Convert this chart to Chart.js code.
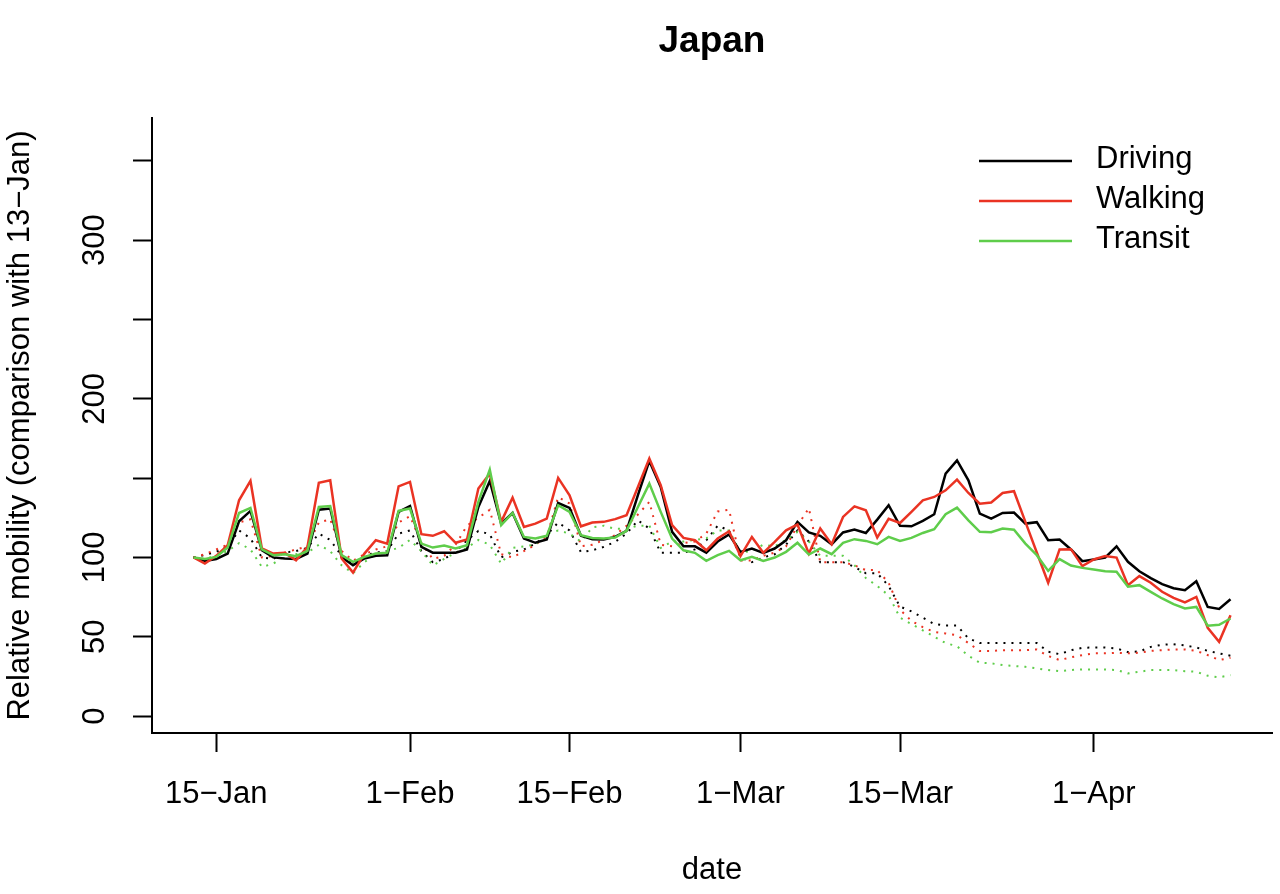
<!DOCTYPE html>
<html lang="en">
<head>
  <meta charset="UTF-8">
  <title>Japan mobility</title>
  <script src="https://cdn.jsdelivr.net/npm/chart.js"></script>
  <style>
    body { margin: 0; background: #fff; }
  </style>
</head>
<body>
  <canvas id="mobilityChart" width="1280" height="894"></canvas>

  <script>
    // days counted from 13-Jan (index 0)
    const xTickDays = [2, 19, 33, 48, 62, 79];
    const xTickLabels = ['15\u2212Jan', '1\u2212Feb', '15\u2212Feb', '1\u2212Mar', '15\u2212Mar', '1\u2212Apr'];
    const yTickValues = [0, 50, 100, 150, 200, 250, 300, 350];
    const yTickLabels = ['0', '50', '100', '', '200', '', '300', ''];
    const seriesNames = ['Driving', 'Walking', 'Transit'];

    const driving = [100, 97.8, 99, 102.4, 122.8, 129.3, 104.5, 100, 99.3, 99, 102.4, 130.1, 130.8, 100.3, 95.1, 99.3, 101, 101.4, 128.7, 132.4, 106.6, 103, 103,
      103, 105, 131.8, 148.2, 121.3, 128, 111.9, 109.2, 111.3, 134.3, 131.2, 113.6, 111.5, 111.3, 112.9, 116.7, 139.2, 160.8, 144.4, 116.1, 107, 107, 103,
      110, 114.4, 103.5, 105.6, 102.9, 105.6, 110.8, 122.4, 115.7, 113.6, 108.3, 115.7, 117.5, 115.4, 123.8, 132.9, 119.9, 119.6, 123, 127.2, 152.8, 161.2, 148.6,
      127.6, 124.5, 128, 128.3, 121.3, 122.2, 110.8, 111.3, 105, 97.6, 98.7, 99.9, 107, 97.2, 91.3, 86.9, 83.1, 80.6, 79.3, 85, 68.8, 67.5, 73.6];
    const walking = [100, 96.1, 101, 107.7, 136, 148.2, 105.6, 102.4, 102.9, 98.2, 106.6, 147, 148.6, 99.3, 90.4, 102.4, 110.8, 108.7, 144.8, 147.6, 114.6, 113.6, 116.5,
      109.2, 111.3, 143.4, 152.8, 122.4, 137.7, 119.2, 121.3, 124.5, 150.1, 139.2, 119.6, 122, 122.4, 124.1, 126.6, 144.4, 162.3, 145.5, 120.3, 112.3, 110.8, 104.5,
      111.9, 116.5, 100.8, 112.9, 102.9, 109.8, 117.1, 120.7, 102.4, 118.2, 108.3, 125.5, 132.2, 129.7, 112.5, 124.3, 121.7, 128.7, 136, 138.1, 142.3, 149, 140.6,
      133.9, 134.6, 140.6, 141.7, 122.4, 103.1, 84, 105, 105.2, 94.5, 98.7, 100.8, 99.9, 82.5, 88.2, 84, 78.3, 74.5, 71.6, 75.1, 55.6, 46.8, 63.6];
    const transit = [100, 99, 100.3, 106.2, 128, 131.2, 105, 101.4, 102, 100.8, 104.1, 131.8, 132.4, 101.4, 97.2, 100.3, 102.4, 103, 129.3, 130.8, 108.7, 106.2, 107.5,
      105.6, 107.7, 135, 155.3, 120.3, 128, 112.9, 111.9, 113.6, 132.9, 128.7, 114, 112.3, 111.9, 112.5, 116.7, 131.8, 146.5, 128.7, 111.9, 104.5, 102.9, 97.8,
      101.4, 104.1, 98.2, 100.3, 97.8, 99.9, 103.5, 109.2, 101.8, 105.6, 102, 109.2, 111.5, 110.4, 108.3, 112.9, 110.4, 112.3, 115.4, 117.8, 127.2, 131.4, 123.4,
      116.1, 115.9, 118.2, 117.5, 108.7, 101.4, 91.5, 98.9, 94.9, 93.4, 92.4, 91.3, 90.9, 81.5, 82.5, 78.3, 74.1, 70.5, 67.8, 68.8, 56.9, 57.5, 61.5];

    // dotted comparison series
    const drivingDotted = [100, 101.5, 103.5, 107, 117, 112, 100, 99, 103, 104, 106, 115, 111, 101, 96, 101, 103, 104, 115, 117, 104, 97, 99,
      103.5, 110.8, 116.7, 114.6, 100, 103.5, 105, 108.7, 114, 122, 117, 103.3, 104.5, 106.6, 109.8, 115, 123.4, 118.2, 102.9, 102.9, 102.9, 105, 110.8,
      120, 117, 100, 97, 100, 102, 108, 117, 110, 97, 97, 97, 94, 90, 90, 82, 69, 66, 62, 58, 57, 57, 49,
      46, 46, 46, 46, 46, 46, 40.5, 39, 41.5, 43, 43.2, 43.2, 42.6, 40.3, 40.7, 43.6, 44.9, 45.3, 44.5, 43.2, 41.1, 39.5, 38];
    const walkingDotted = [100, 102, 105, 108, 122, 124, 100, 101, 103, 105, 107, 122, 124, 104, 98, 102, 105, 107, 122, 126, 109, 99, 101,
      108, 120, 125, 130, 102, 100, 104, 108, 113, 138, 134, 107, 108, 111, 114, 120, 127, 135, 108, 107, 109, 110, 115,
      129, 130, 98, 98, 101, 103, 107, 120, 131, 97, 97, 97, 95, 92, 92, 84, 67, 60, 56, 53, 52, 51, 46,
      41, 41, 41.5, 41.5, 41.5, 42, 37.8, 35.3, 37, 38.4, 39.5, 39.5, 39.9, 39.5, 39.9, 41.1, 41.5, 42, 42, 41.1, 38.4, 35.3, 36.7];
    const transitDotted = [100, 99, 101, 104, 109, 105, 94, 96, 101, 102, 103, 108, 104, 95, 90, 97, 102, 104, 106, 111, 104, 95, 99,
      103, 106, 111, 108, 96, 106, 107, 108, 115, 117, 115, 110, 119, 120, 118, 118, 120, 120, 106, 110, 110, 111, 112,
      117, 117, 103, 104, 108, 107, 111, 116, 110, 101, 101, 101, 95, 87, 82, 76, 62, 58, 54, 50, 46, 44, 38,
      33.6, 33.2, 32.1, 31.5, 31, 30, 29, 28.3, 29, 29.4, 29.4, 29.4, 29, 26.9, 27.9, 29, 29, 29, 28.3, 27.9, 25.4, 24.4, 25.8];

    const BLACK = '#000000';
    const RED = '#EA3323';
    const GREEN = '#5FCD4B';
    const FONT = 'Liberation Sans, Arial, Helvetica, sans-serif';

    const toPoints = arr => arr.map((v, i) => ({ x: i, y: v }));

    function solid(label, arr, color, order) {
      return { label, data: toPoints(arr), borderColor: color, borderWidth: 2.5, pointRadius: 0, tension: 0, order };
    }
    function dotted(label, arr, color, order) {
      return { label, data: toPoints(arr), borderColor: color, borderWidth: 2, borderDash: [2, 6], pointRadius: 0, tension: 0, order };
    }

    // title over the plot region (R style)
    const titlePlugin = {
      id: 'plotTitle',
      afterDraw(chart) {
        const { ctx, chartArea } = chart;
        ctx.save();
        ctx.font = 'bold 37px ' + FONT;
        ctx.fillStyle = '#000';
        ctx.textAlign = 'center';
        ctx.textBaseline = 'middle';
        ctx.fillText('Japan', (chartArea.left + chartArea.right) / 2, 42);
        ctx.restore();
      }
    };

    const legendPlugin = {
      id: 'rLegend',
      afterDraw(chart) {
        const { ctx, chartArea } = chart;
        const colors = [BLACK, RED, GREEN];
        ctx.save();
        ctx.font = '31px ' + FONT;
        ctx.textAlign = 'left';
        ctx.textBaseline = 'middle';
        seriesNames.forEach((name, k) => {
          const y = chartArea.top + 43 + k * 40;
          ctx.strokeStyle = colors[k];
          ctx.lineWidth = 2.5;
          ctx.beginPath();
          ctx.moveTo(chartArea.right - 293, y);
          ctx.lineTo(chartArea.right - 200, y);
          ctx.stroke();
          ctx.fillStyle = '#000';
          ctx.fillText(name, chartArea.right - 176, y - 1.5);
        });
        ctx.restore();
      }
    };

    const ctx = document.getElementById('mobilityChart').getContext('2d');
    new Chart(ctx, {
      type: 'line',
      data: {
        datasets: [
          solid('Transit', transit, GREEN, 1),
          solid('Walking', walking, RED, 2),
          solid('Driving', driving, BLACK, 3),
          dotted('Transit (dotted)', transitDotted, GREEN, 4),
          dotted('Walking (dotted)', walkingDotted, RED, 5),
          dotted('Driving (dotted)', drivingDotted, BLACK, 6)
        ]
      },
      options: {
        responsive: false,
        animation: false,
        devicePixelRatio: 1,
        layout: { padding: { top: 118, left: 0, right: 8, bottom: 0 } },
        plugins: {
          legend: { display: false },
          tooltip: { enabled: false }
        },
        scales: {
          x: {
            type: 'linear',
            min: -3.64,
            max: 94.64,
            bounds: 'data',
            afterBuildTicks: s => { s.ticks = xTickDays.map(v => ({ value: v })); },
            afterFit: s => { s.height = 161; },
            grid: { drawOnChartArea: false, drawTicks: true, tickLength: 19, tickWidth: 2, tickColor: '#000' },
            border: { display: true, color: '#000', width: 2 },
            ticks: {
              autoSkip: false,
              maxRotation: 0,
              minRotation: 0,
              padding: 24,
              color: '#000',
              font: { family: FONT, size: 31 },
              callback: v => xTickLabels[xTickDays.indexOf(v)]
            },
            title: { display: true, text: 'date', color: '#000', font: { family: FONT, size: 31 }, padding: { top: 0, bottom: 5 } }
          },
          y: {
            type: 'linear',
            min: -10.7,
            max: 377,
            bounds: 'data',
            afterBuildTicks: s => { s.ticks = yTickValues.map(v => ({ value: v })); },
            afterFit: s => { s.width = 152; },
            grid: { drawOnChartArea: false, drawTicks: true, tickLength: 19, tickWidth: 2, tickColor: '#000' },
            border: { display: true, color: '#000', width: 2 },
            ticks: {
              autoSkip: false,
              minRotation: 90,
              maxRotation: 90,
              crossAlign: 'center',
              padding: 12,
              color: '#000',
              font: { family: FONT, size: 31 },
              callback: v => yTickLabels[yTickValues.indexOf(v)]
            },
            title: { display: true, text: 'Relative mobility (comparison with 13\u2212Jan)', color: '#000', font: { family: FONT, size: 31 }, padding: { top: 2, bottom: 0 } }
          }
        }
      },
      plugins: [titlePlugin, legendPlugin]
    });
  </script>
</body>
</html>
